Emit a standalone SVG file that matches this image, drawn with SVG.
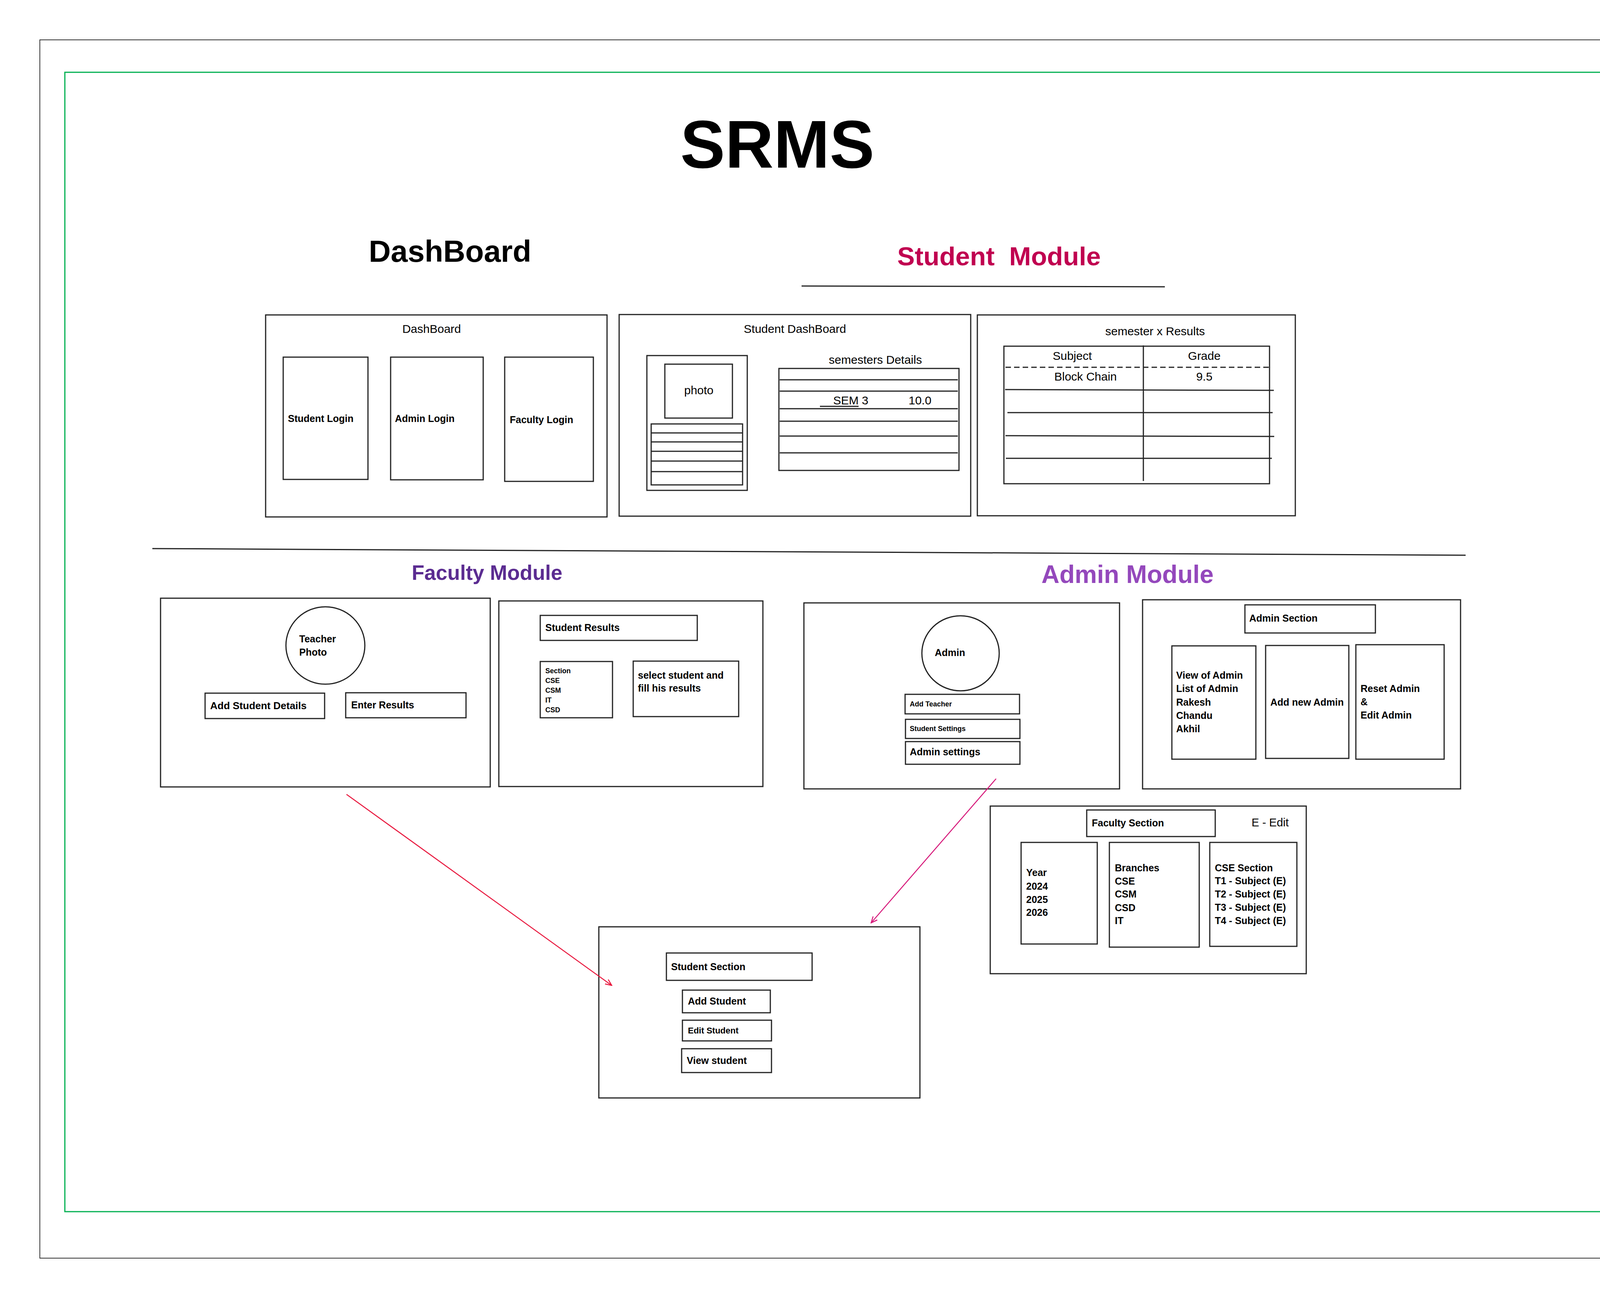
<svg xmlns="http://www.w3.org/2000/svg" width="4342" height="3322" viewBox="0 0 4342 3322">
<style>
.b{fill:none;stroke:#222;stroke-width:3}
.l{stroke:#222;stroke-width:3;fill:none}
text{font-family:"Liberation Sans",Arial,sans-serif;fill:#000}
.n{font-size:30px}
.bd{font-weight:bold;font-size:25px}
.sm{font-weight:bold;font-size:18px}
.c{text-anchor:middle}
.h{font-weight:bold}
</style>
<defs>
<marker id="arR" viewBox="0 0 20 20" refX="18" refY="10" markerWidth="20" markerHeight="20" markerUnits="userSpaceOnUse" orient="auto">
<path d="M2,3 L18,10 L2,17" fill="none" stroke="#E8173D" stroke-width="2.5"/>
</marker>
<marker id="arP" viewBox="0 0 20 20" refX="18" refY="10" markerWidth="20" markerHeight="20" markerUnits="userSpaceOnUse" orient="auto">
<path d="M2,3 L18,10 L2,17" fill="none" stroke="#D6197A" stroke-width="2.5"/>
</marker>
</defs>
<rect width="4342" height="3322" fill="#fff"/>
<g id="frames">
<rect x="102" y="102" width="4137" height="3118" fill="none" stroke="#333" stroke-width="2"/>
<rect x="166" y="185" width="4010" height="2916" fill="none" stroke="#00B050" stroke-width="3"/>
</g>
<g id="headings">
<text x="1990" y="429" class="h c" font-size="172">SRMS</text>
<text x="944" y="670" class="h" font-size="78">DashBoard</text>
<text x="2297" y="679" class="h" font-size="67" fill="#C00050" style="fill:#C00050;white-space:pre" xml:space="preserve">Student  Module</text>
<line x1="2052" y1="732" x2="2982" y2="734" class="l"/>
<line x1="390" y1="1404" x2="3752" y2="1421" class="l"/>
<text x="1054" y="1484" class="h" font-size="53" style="fill:#5B2C91">Faculty Module</text>
<text x="2666" y="1492" class="h" font-size="64" style="fill:#9448BC">Admin Module</text>
</g>
<g id="dashboard">
<rect x="680" y="806" width="874" height="517" class="b"/>
<text x="1105" y="852" class="n c">DashBoard</text>
<rect x="725" y="914" width="217" height="313" class="b"/>
<text x="737" y="1080" class="bd">Student Login</text>
<rect x="1000" y="914" width="237" height="314" class="b"/>
<text x="1011" y="1080" class="bd">Admin Login</text>
<rect x="1292" y="914" width="227" height="318" class="b"/>
<text x="1305" y="1083" class="bd">Faculty Login</text>
</g>
<g id="student-dashboard">
<rect x="1585" y="805" width="900" height="516" class="b"/>
<text x="2035" y="852" class="n c">Student DashBoard</text>
<rect x="1656" y="910" width="257" height="345" class="b"/>
<rect x="1702" y="932" width="173" height="138" class="b"/>
<text x="1789" y="1009" class="n c">photo</text>
<rect x="1667" y="1085" width="234" height="156" class="b"/>
<path d="M1666,1108H1901M1666,1131H1901M1666,1155H1901M1666,1180H1901M1666,1207H1901" class="l"/>
<text x="2241" y="931" class="n c">semesters Details</text>
<rect x="1994" y="943" width="461" height="261" class="b"/>
<path d="M1996,972H2452M1996,1001H2452M1996,1046H2452M1996,1078H2452M1996,1116H2452M1996,1159H2452" class="l"/>
<text x="2133" y="1035" class="n">SEM 3</text>
<line x1="2099" y1="1040" x2="2198" y2="1040" class="l"/>
<text x="2326" y="1035" class="n">10.0</text>
</g>
<g id="semester-results">
<rect x="2502" y="806" width="814" height="514" class="b"/>
<text x="2957" y="858" class="n c">semester x Results</text>
<rect x="2570" y="886" width="680" height="352" class="b"/>
<line x1="2927" y1="884" x2="2927" y2="1231" class="l"/>
<line x1="2574" y1="940" x2="3256" y2="940" stroke="#222" stroke-width="3" stroke-dasharray="14 8"/>
<text x="2745" y="921" class="n c">Subject</text>
<text x="3083" y="921" class="n c">Grade</text>
<text x="2779" y="974" class="n c">Block Chain</text>
<text x="3083" y="974" class="n c">9.5</text>
<path d="M2573,997L3261,999M2579,1056H3258M2574,1115L3262,1117M2575,1173H3256" class="l"/>
</g>
<g id="faculty-main">
<rect x="411" y="1531" width="844" height="483" class="b"/>
<ellipse cx="833" cy="1652" rx="101" ry="99" class="b"/>
<text x="766" y="1644" class="bd">Teacher</text>
<text x="766" y="1678" class="bd">Photo</text>
<rect x="525" y="1774" width="306" height="65" class="b"/>
<text x="538" y="1815" class="h" font-size="26">Add Student Details</text>
<rect x="885" y="1773" width="308" height="64" class="b"/>
<text x="899" y="1813" class="bd">Enter Results</text>
</g>
<g id="faculty-results">
<rect x="1277" y="1538" width="676" height="475" class="b"/>
<rect x="1383" y="1575" width="402" height="64" class="b"/>
<text x="1396" y="1615" class="bd">Student Results</text>
<rect x="1383" y="1693" width="185" height="144" class="b"/>
<text x="1396" y="1723" class="sm">Section</text>
<text x="1396" y="1748" class="sm">CSE</text>
<text x="1396" y="1773" class="sm">CSM</text>
<text x="1396" y="1798" class="sm">IT</text>
<text x="1396" y="1823" class="sm">CSD</text>
<rect x="1621" y="1692" width="270" height="142" class="b"/>
<text x="1633" y="1737" class="bd">select student and</text>
<text x="1633" y="1770" class="bd">fill his results</text>
</g>
<g id="admin-main">
<rect x="2058" y="1543" width="808" height="476" class="b"/>
<ellipse cx="2459" cy="1672" rx="99" ry="96" class="b"/>
<text x="2393" y="1679" class="bd">Admin</text>
<rect x="2317" y="1777" width="293" height="50" class="b"/>
<text x="2329" y="1808" class="sm">Add Teacher</text>
<rect x="2318" y="1841" width="293" height="49" class="b"/>
<text x="2329" y="1871" class="sm">Student Settings</text>
<rect x="2318" y="1898" width="293" height="58" class="b"/>
<text x="2329" y="1933" class="bd">Admin settings</text>
</g>
<g id="admin-section">
<rect x="2925" y="1535" width="814" height="484" class="b"/>
<rect x="3187" y="1548" width="334" height="72" class="b"/>
<text x="3198" y="1591" class="bd">Admin Section</text>
<rect x="3000" y="1653" width="215" height="290" class="b"/>
<text x="3011" y="1737" class="bd">View of Admin</text>
<text x="3011" y="1771" class="bd">List of Admin</text>
<text x="3011" y="1806" class="bd">Rakesh</text>
<text x="3011" y="1840" class="bd">Chandu</text>
<text x="3011" y="1874" class="bd">Akhil</text>
<rect x="3240" y="1652" width="213" height="289" class="b"/>
<text x="3252" y="1806" class="bd">Add new Admin</text>
<rect x="3471" y="1650" width="226" height="293" class="b"/>
<text x="3483" y="1771" class="bd">Reset Admin</text>
<text x="3483" y="1805" class="bd">&amp;</text>
<text x="3483" y="1839" class="bd">Edit Admin</text>
</g>
<g id="faculty-section">
<rect x="2535" y="2063" width="809" height="429" class="b"/>
<rect x="2782" y="2073" width="329" height="68" class="b"/>
<text x="2795" y="2115" class="bd">Faculty Section</text>
<text x="3204" y="2115" font-size="29">E - Edit</text>
<rect x="2614" y="2156" width="195" height="260" class="b"/>
<text x="2627" y="2242" class="bd">Year</text>
<text x="2627" y="2277" class="bd">2024</text>
<text x="2627" y="2311" class="bd">2025</text>
<text x="2627" y="2344" class="bd">2026</text>
<rect x="2840" y="2156" width="230" height="268" class="b"/>
<text x="2854" y="2230" class="bd">Branches</text>
<text x="2854" y="2264" class="bd">CSE</text>
<text x="2854" y="2297" class="bd">CSM</text>
<text x="2854" y="2332" class="bd">CSD</text>
<text x="2854" y="2365" class="bd">IT</text>
<rect x="3097" y="2156" width="223" height="266" class="b"/>
<text x="3110" y="2230" class="bd">CSE Section</text>
<text x="3110" y="2263" class="bd">T1 - Subject (E)</text>
<text x="3110" y="2297" class="bd">T2 - Subject (E)</text>
<text x="3110" y="2331" class="bd">T3 - Subject (E)</text>
<text x="3110" y="2365" class="bd">T4 - Subject (E)</text>
</g>
<g id="student-section">
<rect x="1533" y="2372" width="822" height="438" class="b"/>
<rect x="1706" y="2439" width="373" height="70" class="b"/>
<text x="1718" y="2483" class="bd">Student Section</text>
<rect x="1747" y="2534" width="225" height="58" class="b"/>
<text x="1761" y="2571" class="bd">Add Student</text>
<rect x="1747" y="2611" width="228" height="53" class="b"/>
<text x="1761" y="2645" class="h" font-size="22">Edit Student</text>
<rect x="1745" y="2684" width="230" height="61" class="b"/>
<text x="1758" y="2723" class="bd">View student</text>
</g>
<g id="connectors">
<line x1="887" y1="2033" x2="1566" y2="2522" stroke="#E8173D" stroke-width="2.5" marker-end="url(#arR)"/>
<line x1="2550" y1="1993" x2="2230" y2="2362" stroke="#D6197A" stroke-width="2.5" marker-end="url(#arP)"/>
</g>
</svg>
